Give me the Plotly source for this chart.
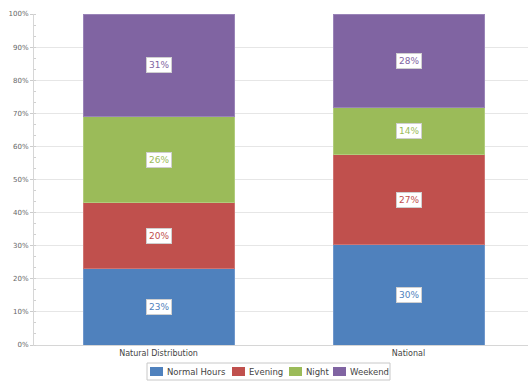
import plotly.graph_objects as go

# Share of activity by time band, per region
categories = ["Natural Distribution", "National"]
series_names = ["Normal Hours", "Evening", "Night", "Weekend"]
normal_hours = [23, 30]
evening = [20, 27]
night = [26, 14]
weekend = [31, 28]

colors = ["#4F81BD", "#C0504D", "#9BBB59", "#8064A2"]
edge_colors = ["#6f97cc", "#cf7472", "#b1cc7c", "#9a84b8"]
y_ticks = list(range(0, 101, 10))

W, H = 529, 381
M_L, M_R, M_T, M_B = 34, 1, 14, 36
PLOT_W = W - M_L - M_R
PLOT_H = H - M_T - M_B


def px_x(px):
    return (px - M_L) / PLOT_W


def px_y(py):
    return (H - M_B - py) / PLOT_H


series_values = [normal_hours, evening, night, weekend]
totals = [sum(col) for col in zip(*series_values)]

fig = go.Figure()
base = [0.0 for _ in categories]
annotations = []
for name, vals, col, edge in zip(series_names, series_values, colors, edge_colors):
    shares = [v / t * 100 for v, t in zip(vals, totals)]
    fig.add_trace(go.Bar(
        name=name,
        x=categories,
        y=shares,
        marker=dict(color=col, line=dict(color=edge, width=1)),
        hoverinfo="skip",
        showlegend=False,
    ))
    for cat, v, s, b in zip(categories, vals, shares, base):
        annotations.append(dict(
            x=cat, y=b + s / 2, xref="x", yref="y",
            text=f"{v}%", showarrow=False,
            font=dict(family="DejaVu Sans", size=9, color=col),
            bgcolor="white", bordercolor="#cfcfcf", borderwidth=1, borderpad=2,
        ))
    base = [b + s for b, s in zip(base, shares)]

# Legend drawn as a framed row of swatches beneath the chart
shapes = [dict(
    type="rect", xref="paper", yref="paper",
    x0=px_x(147), x1=px_x(390), y0=px_y(380), y1=px_y(363),
    line=dict(color="#c8c8c8", width=1), fillcolor="white", layer="above",
)]
legend_swatch_x = [150, 232, 289, 333]
for name, col, sx in zip(series_names, colors, legend_swatch_x):
    shapes.append(dict(
        type="rect", xref="paper", yref="paper",
        x0=px_x(sx), x1=px_x(sx + 13), y0=px_y(376), y1=px_y(367),
        line=dict(color=col, width=0), fillcolor=col, layer="above",
    ))
    annotations.append(dict(
        x=px_x(sx + 15), y=px_y(371.5), xref="paper", yref="paper",
        xanchor="left", yanchor="middle", showarrow=False,
        text=name, font=dict(family="DejaVu Sans", size=8.5, color="#444444"),
    ))

fig.update_layout(
    barmode="stack",
    bargap=0.396,
    width=W, height=H,
    margin=dict(l=M_L, r=M_R, t=M_T, b=M_B),
    paper_bgcolor="white",
    plot_bgcolor="white",
    font=dict(family="DejaVu Sans", size=8, color="#555555"),
    annotations=annotations,
    shapes=shapes,
    showlegend=False,
)

fig.update_yaxes(
    range=[0, 100],
    tickvals=y_ticks,
    ticktext=[f"{t}%" for t in y_ticks],
    tickfont=dict(family="DejaVu Sans", size=7, color="#666666"),
    showgrid=True, gridcolor="#e6e6e6", gridwidth=1,
    showline=True, linecolor="#d6d6d6", linewidth=1,
    ticks="outside", ticklen=3, tickcolor="#cccccc",
    minor=dict(dtick=10 / 3, ticks="inside", ticklen=2, tickcolor="#d0d0d0", showgrid=False),
    zeroline=False,
    fixedrange=True,
)
fig.update_xaxes(
    range=[-0.498, 1.478],
    tickfont=dict(family="DejaVu Sans", size=8, color="#444444"),
    showline=True, linecolor="#d6d6d6", linewidth=1,
    ticks="", showgrid=False,
    fixedrange=True,
)

fig.write_html("out.html")
